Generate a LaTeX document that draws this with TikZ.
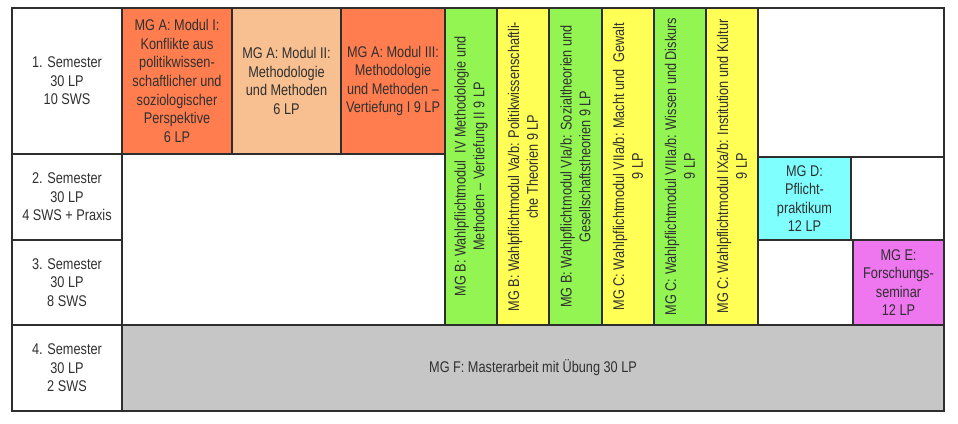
\documentclass[tikz,border=0pt]{standalone}
\usepackage{fontspec}
\setmainfont{Liberation Sans}[FakeStretch=0.82]
\definecolor{linec}{HTML}{2E2E2E}
\definecolor{txt}{HTML}{303030}
\definecolor{orangeA}{HTML}{FF7D4E}
\definecolor{peachA}{HTML}{F8BF90}
\definecolor{greenB}{HTML}{92F552}
\definecolor{yellowC}{HTML}{FFFF55}
\definecolor{cyanD}{HTML}{80FFFF}
\definecolor{magE}{HTML}{EE76EE}
\definecolor{grayF}{HTML}{C6C6C6}
\begin{document}
\begin{tikzpicture}[x=1pt,y=-1pt,
  cell/.style={draw=linec, line width=1.2pt, inner sep=0pt, align=center,
    font=\fontsize{15.5}{18.6}\selectfont, text=txt, fill=white},
  vcell/.style={cell, rotate=90, minimum width=317pt, minimum height=52pt}]
\useasboundingbox (0,0) rectangle (958,423);
% semester column
\node[cell, minimum width=110pt, minimum height=146pt] (s1) at (67,81) {1. Semester\\30 LP\\10 SWS};
\node[cell, minimum width=110pt, minimum height=86pt] (s2) at (67,197) {2. Semester\\30 LP\\4 SWS + Praxis};
\node[cell, minimum width=110pt, minimum height=85pt] (s3) at (67,282.5) {3. Semester\\30 LP\\8 SWS};
\node[cell, minimum width=110pt, minimum height=86pt] (s4) at (67,368) {4. Semester\\30 LP\\2 SWS};
% empty areas
\node[cell, minimum width=323pt, minimum height=171pt] (e1) at (283.5,239.5) {};
\node[cell, minimum width=186pt, minimum height=149pt] (e2) at (851,82.5) {};
\node[cell, minimum width=93pt, minimum height=83pt] (e3) at (897.5,198.5) {};
\node[cell, minimum width=95pt, minimum height=85pt] (e4) at (805.5,282.5) {};
% MG A
\node[cell, fill=orangeA, minimum width=110pt, minimum height=146pt] (m1) at (177,81) {MG A: Modul I:\\Konflikte aus\\politikwissen-\\schaftlicher und\\soziologischer\\Perspektive\\6 LP};
\node[cell, fill=peachA, minimum width=109pt, minimum height=146pt] (m2) at (286.5,81) {MG A: Modul II:\\Methodologie\\und Methoden\\6 LP};
\node[cell, fill=orangeA, minimum width=104pt, minimum height=146pt] (m3) at (393,81) {MG A: Modul III:\\Methodologie\\und Methoden --\\Vertiefung I 9 LP};
% vertical modules
\node[vcell, fill=greenB] (v4) at (471,166.5) {MG B: Wahlpflichtmodul\ \ IV Methodologie und\\Methoden -- Vertiefung II 9 LP};
\node[vcell, fill=yellowC] (v5) at (523,166.5) {MG B: Wahlpflichtmodul Va/b: Politikwissenschaftli-\\che Theorien 9 LP};
\node[vcell, fill=greenB] (v6) at (575.5,166.5) {MG B: Wahlpflichtmodul VIa/b: Sozialtheorien und\\Gesellschaftstheorien 9 LP};
\node[vcell, fill=yellowC] (v7) at (628,166.5) {MG C: Wahlpflichtmodul VIIa/b: Macht und\ \ Gewalt\\9 LP};
\node[vcell, fill=greenB] (v8) at (680,166.5) {MG C: Wahlpflichtmodul VIIIa/b: Wissen und Diskurs\\9 LP};
\node[vcell, fill=yellowC] (v9) at (732,166.5) {MG C: Wahlpflichtmodul IXa/b: Institution und Kultur\\9 LP};
% MG D, E
\node[cell, fill=cyanD, minimum width=93pt, minimum height=83pt] (d) at (804.5,198.5) {MG D:\\Pflicht-\\praktikum\\12 LP};
\node[cell, fill=magE, minimum width=91pt, minimum height=85pt] (e) at (898.5,282.5) {MG E:\\Forschungs-\\seminar\\12 LP};
% MG F
\node[cell, fill=grayF, minimum width=822pt, minimum height=86pt] (f) at (533,368) {MG F: Masterarbeit mit Übung 30 LP};
\end{tikzpicture}
\end{document}
